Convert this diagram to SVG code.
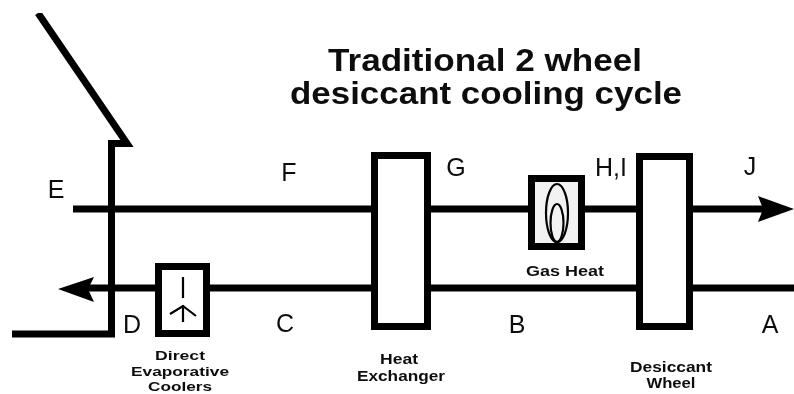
<svg xmlns="http://www.w3.org/2000/svg" width="794" height="394" viewBox="0 0 794 394">
<style>
text{font-family:"Liberation Sans",Arial,sans-serif;fill:#111;text-anchor:middle}
.t{font-size:32px;font-weight:bold}
.l{font-size:25px}
.c{font-size:15px;font-weight:bold}
.d{font-size:13.500px;font-weight:bold}
.b{fill:#fff;stroke:#000;stroke-width:7}
.p{fill:none;stroke:#000;stroke-width:7}
.i{fill:none;stroke:#000;stroke-width:2.2}
</style>
<defs><filter id="soft" x="0" y="0" width="100%" height="100%"><feGaussianBlur stdDeviation="0.55"/></filter></defs>
<rect width="794" height="394" fill="#fff"/>
<g filter="url(#soft)">
<g id="connectors">
<path class="p" d="M73 209H770"/>
<path class="p" d="M794 288H85"/>
<path d="M794 209L758 196L763 209L758 222Z"/>
<path d="M58 289L94 277L88 289L94 302Z"/>
</g>
<g id="wall">
<path class="p" stroke-linejoin="miter" d="M38 13L127 143.500H111.500V334H12"/>
</g>
<g id="heat-exchanger"><rect class="b" x="374.500" y="155.500" width="53" height="171"/></g>
<g id="desiccant-wheel"><rect class="b" x="639.500" y="156.500" width="50" height="170"/></g>
<g id="gas-heat"><rect class="b" x="531.500" y="178.500" width="50" height="68" style="fill:#f2f2f2"/>
<ellipse class="i" cx="557" cy="213" rx="11" ry="29"/><ellipse class="i" cx="557" cy="223" rx="6.500" ry="19"/></g>
<g id="evaporative-cooler"><rect class="b" x="158.500" y="266.500" width="48" height="67"/>
<path class="i" d="M183 277V298M183 305V322M170 314L183 306L196 316"/></g>
<g id="labels">
<text class="t" x="485" y="71" textLength="314" lengthAdjust="spacingAndGlyphs">Traditional 2 wheel</text>
<text class="t" x="486" y="104" textLength="392" lengthAdjust="spacingAndGlyphs">desiccant cooling cycle</text>
<text class="l" x="56" y="198">E</text><text class="l" x="289" y="181">F</text><text class="l" x="456" y="176">G</text>
<text class="l" x="611" y="176">H,I</text><text class="l" x="750" y="175">J</text>
<text class="l" x="132" y="333">D</text><text class="l" x="285" y="332">C</text><text class="l" x="517" y="333">B</text><text class="l" x="770" y="333">A</text>
<text class="d" x="180" y="360" textLength="50" lengthAdjust="spacingAndGlyphs">Direct</text>
<text class="d" x="180" y="375.500" textLength="98" lengthAdjust="spacingAndGlyphs">Evaporative</text>
<text class="d" x="180" y="391" textLength="64" lengthAdjust="spacingAndGlyphs">Coolers</text>
<text class="c" x="399" y="364" textLength="38" lengthAdjust="spacingAndGlyphs">Heat</text>
<text class="c" x="401" y="381" textLength="88" lengthAdjust="spacingAndGlyphs">Exchanger</text>
<text class="c" x="565" y="276" textLength="78" lengthAdjust="spacingAndGlyphs">Gas Heat</text>
<text class="c" x="671" y="372" textLength="82" lengthAdjust="spacingAndGlyphs">Desiccant</text>
<text class="c" x="671" y="388" textLength="49" lengthAdjust="spacingAndGlyphs">Wheel</text>
</g>
</g>
</svg>
